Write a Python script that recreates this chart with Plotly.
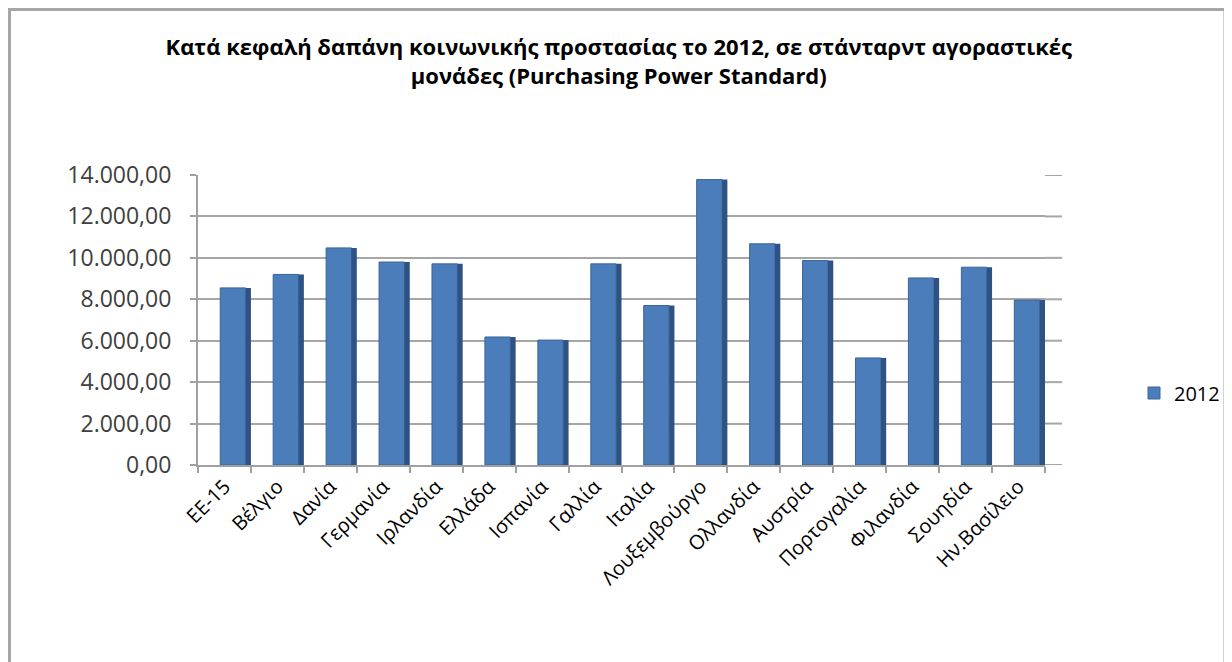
import plotly.graph_objects as go

categories = ["ΕΕ-15", "Βέλγιο", "Δανία", "Γερμανία", "Ιρλανδία", "Ελλάδα", "Ισπανία",
              "Γαλλία", "Ιταλία", "Λουξεμβούργο", "Ολλανδία", "Αυστρία", "Πορτογαλία",
              "Φιλανδία", "Σουηδία", "Ην.Βασίλειο"]
values_2012 = [8550, 9200, 10480, 9800, 9710, 6180, 6030, 9710, 7700, 13780,
               10680, 9870, 5170, 9030, 9550, 7960]
y_ticks = [0, 2000, 4000, 6000, 8000, 10000, 12000, 14000]
series_name = "2012"

FONT = "Open Sans"
W, H = 1224, 654          # page body has an 8px margin
L, R, T, B = 190, 187, 167, 197

fig = go.Figure()
# front face of columns
fig.add_trace(go.Bar(
    x=categories, y=values_2012, name=series_name,
    width=0.48, offset=-0.08,
    marker=dict(color="#4A7DBA", line=dict(color="#3A659A", width=1)),
    hoverinfo="x+y",
))
# darker side face for a 3D look
fig.add_trace(go.Bar(
    x=categories, y=values_2012, name=series_name + " side",
    width=0.1, offset=0.40, showlegend=False,
    marker=dict(color="#2E5283", line=dict(width=0)),
    hoverinfo="skip",
))

def px_x(p):
    return (p - L) / (W - L - R)

def px_y(p):
    return (H - B - p) / (H - T - B)

shapes = [dict(
    type="rect", xref="paper", yref="paper", layer="below",
    x0=px_x(1.5), x1=px_x(1217), y0=px_y(1.5), y1=px_y(680),
    line=dict(color="#A6A6A6", width=3), fillcolor="rgba(0,0,0,0)",
)]
# back-wall depth: gridlines continue a little beyond the floor edge
for v in y_ticks:
    shapes.append(dict(
        type="line", xref="paper", yref="y", layer="below",
        x0=1, x1=px_x(1054), y0=v, y1=v,
        line=dict(color="#A6A6A6", width=2),
    ))

fig.update_layout(
    width=W, height=H,
    template="none",
    paper_bgcolor="white", plot_bgcolor="white",
    margin=dict(l=L, r=R, t=T, b=B, autoexpand=False),
    barmode="overlay",
    separators=",.",
    font=dict(family=FONT, color="#000000"),
    title=dict(
        text="Κατά κεφαλή δαπάνη κοινωνικής προστασίας το 2012, σε στάνταρντ αγοραστικές<br>μονάδες (Purchasing Power Standard)",
        font=dict(family=FONT, size=22, color="#000000", weight="bold"),
        x=0.499, xref="container", xanchor="center",
        y=1 - 47 / H, yref="container", yanchor="top",
    ),
    legend=dict(
        x=px_x(1126), y=px_y(385), xanchor="left", yanchor="middle",
        font=dict(family=FONT, size=20, color="#000000"),
        bgcolor="rgba(0,0,0,0)", itemwidth=30,
    ),
    showlegend=True,
    xaxis=dict(
        type="category", tickangle=-45, automargin=False,
        tickfont=dict(family=FONT, size=20, color="#000000"),
        showgrid=False, showline=True, linecolor="#A0A0A0", linewidth=2,
        ticks="outside", tickson="boundaries", ticklen=6, tickcolor="#A0A0A0",
        tickwidth=2, zeroline=False,
    ),
    yaxis=dict(
        range=[0, 14000], tickvals=y_ticks, tickformat=",.2f", automargin=False,
        tickfont=dict(family=FONT, size=23, color="#404040"),
        showgrid=True, gridcolor="#A6A6A6", gridwidth=2,
        showline=True, linecolor="#A0A0A0", linewidth=2,
        ticks="outside", ticklen=6, tickcolor="#A0A0A0", tickwidth=2,
        zeroline=False, ticklabelstandoff=14,
    ),
    shapes=shapes,
)

fig.write_html("out.html")
